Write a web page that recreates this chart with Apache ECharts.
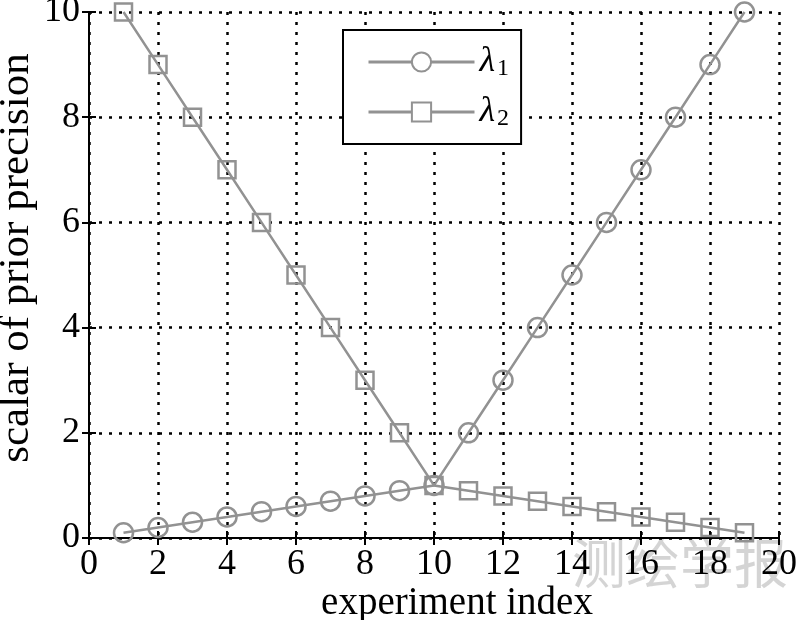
<!DOCTYPE html>
<html>
<head>
<meta charset="utf-8">
<script src="https://cdn.jsdelivr.net/npm/echarts@6/dist/echarts.min.js"></script>
<style>
  html, body { margin: 0; padding: 0; background: #fff; }
  #chart { width: 800px; height: 620px; }
</style>
</head>
<body>
<div id="chart"></div>
<script>
const experiments = [1, 2, 3, 4, 5, 6, 7, 8, 9, 10, 11, 12, 13, 14, 15, 16, 17, 18, 19];
const lambda1 = [0.1, 0.2, 0.3, 0.4, 0.5, 0.6, 0.7, 0.8, 0.9, 1.0, 2, 3, 4, 5, 6, 7, 8, 9, 10];
const lambda2 = [10, 9, 8, 7, 6, 5, 4, 3, 2, 1.0, 0.9, 0.8, 0.7, 0.6, 0.5, 0.4, 0.3, 0.2, 0.1];

const serif = "Liberation Serif, Times New Roman, serif";
const gray = "#929292";

const chart = echarts.init(document.getElementById("chart"));

function pairs(ys) {
  return experiments.map((x, i) => [x, ys[i]]);
}

const boxAxis = {
  min: 0,
  max: 20,
  interval: 2,
  axisLine: { show: true, lineStyle: { color: "#000", width: 2 } },
  axisTick: { show: true, inside: true, length: 7, lineStyle: { color: "#000", width: 2 } },
  axisLabel: { show: false },
  splitLine: { show: false },
};

chart.setOption({
  animation: false,
  backgroundColor: "#fff",
  grid: { left: 89, right: 21, top: 12, bottom: 82, outerBoundsMode: "none", containLabel: false },
  legend: {
    orient: "vertical",
    left: 343,
    top: 30,
    padding: [13, 12, 13, 24],
    itemGap: 12,
    itemWidth: 106,
    itemHeight: 24,
    backgroundColor: "#fff",
    borderColor: "#000",
    borderWidth: 2,
    itemStyle: { color: "#fff" },
    lineStyle: { width: 3 },
    formatter: (name) => (name === "lambda1" ? "{l|λ}{s|1}" : "{l|λ}{s|2}"),
    textStyle: {
      rich: {
        l: { fontFamily: serif, fontStyle: "italic", fontSize: 36, color: "#000", lineHeight: 30, verticalAlign: "middle" },
        s: { fontFamily: serif, fontSize: 24, color: "#000", padding: [14, 0, 0, 2], lineHeight: 30, verticalAlign: "middle" },
      },
    },
  },
  xAxis: [
    {
      type: "value",
      min: 0,
      max: 20,
      interval: 2,
      name: "experiment index",
      nameLocation: "middle",
      nameGap: 46,
      nameMoveOverlap: false,
      nameTextStyle: { fontFamily: serif, fontSize: 39, color: "#000", padding: [0, 0, 0, 46] },
      axisLine: { show: true, lineStyle: { color: "#000", width: 2 } },
      axisTick: { show: true, inside: true, length: 7, lineStyle: { color: "#000", width: 2 } },
      axisLabel: { fontFamily: serif, fontSize: 36, color: "#000", margin: 9 },
      splitLine: { show: true, lineStyle: { color: "#000", width: 2.5, type: [3, 7] } },
    },
    Object.assign({}, boxAxis, { type: "value", position: "top" }),
  ],
  yAxis: [
    {
      type: "value",
      min: 0,
      max: 10,
      interval: 2,
      name: "scalar of prior precision",
      nameLocation: "middle",
      nameGap: 51,
      nameMoveOverlap: false,
      nameTextStyle: { fontFamily: serif, fontSize: 43, color: "#000", padding: [0, 0, 0, 34] },
      axisLine: { show: true, lineStyle: { color: "#000", width: 2 } },
      axisTick: { show: true, inside: true, length: 7, lineStyle: { color: "#000", width: 2 } },
      axisLabel: { fontFamily: serif, fontSize: 36, color: "#000", margin: 9 },
      splitLine: { show: true, lineStyle: { color: "#000", width: 2.5, type: [3, 7] } },
    },
    Object.assign({}, boxAxis, { type: "value", position: "right", max: 10 }),
  ],
  series: [
    {
      name: "lambda1",
      type: "line",
      data: pairs(lambda1),
      symbol: "circle",
      symbolSize: 19,
      lineStyle: { color: gray, width: 2.5 },
      itemStyle: { color: "transparent", borderColor: gray, borderWidth: 2.5 },
      z: 3,
    },
    {
      name: "lambda2",
      type: "line",
      data: pairs(lambda2),
      symbol: "rect",
      symbolSize: 17,
      lineStyle: { color: gray, width: 2.5 },
      itemStyle: { color: "transparent", borderColor: gray, borderWidth: 2.5 },
      z: 3,
    },
  ],
  graphic: [
    {
      type: "text",
      left: 572,
      top: 536,
      z: -1,
      style: {
        text: "测绘学报",
        fontFamily: "Noto Sans CJK SC",
        fontSize: 54,
        fill: "rgba(170,170,170,0.5)",
      },
    },
  ],
});
</script>
</body>
</html>
